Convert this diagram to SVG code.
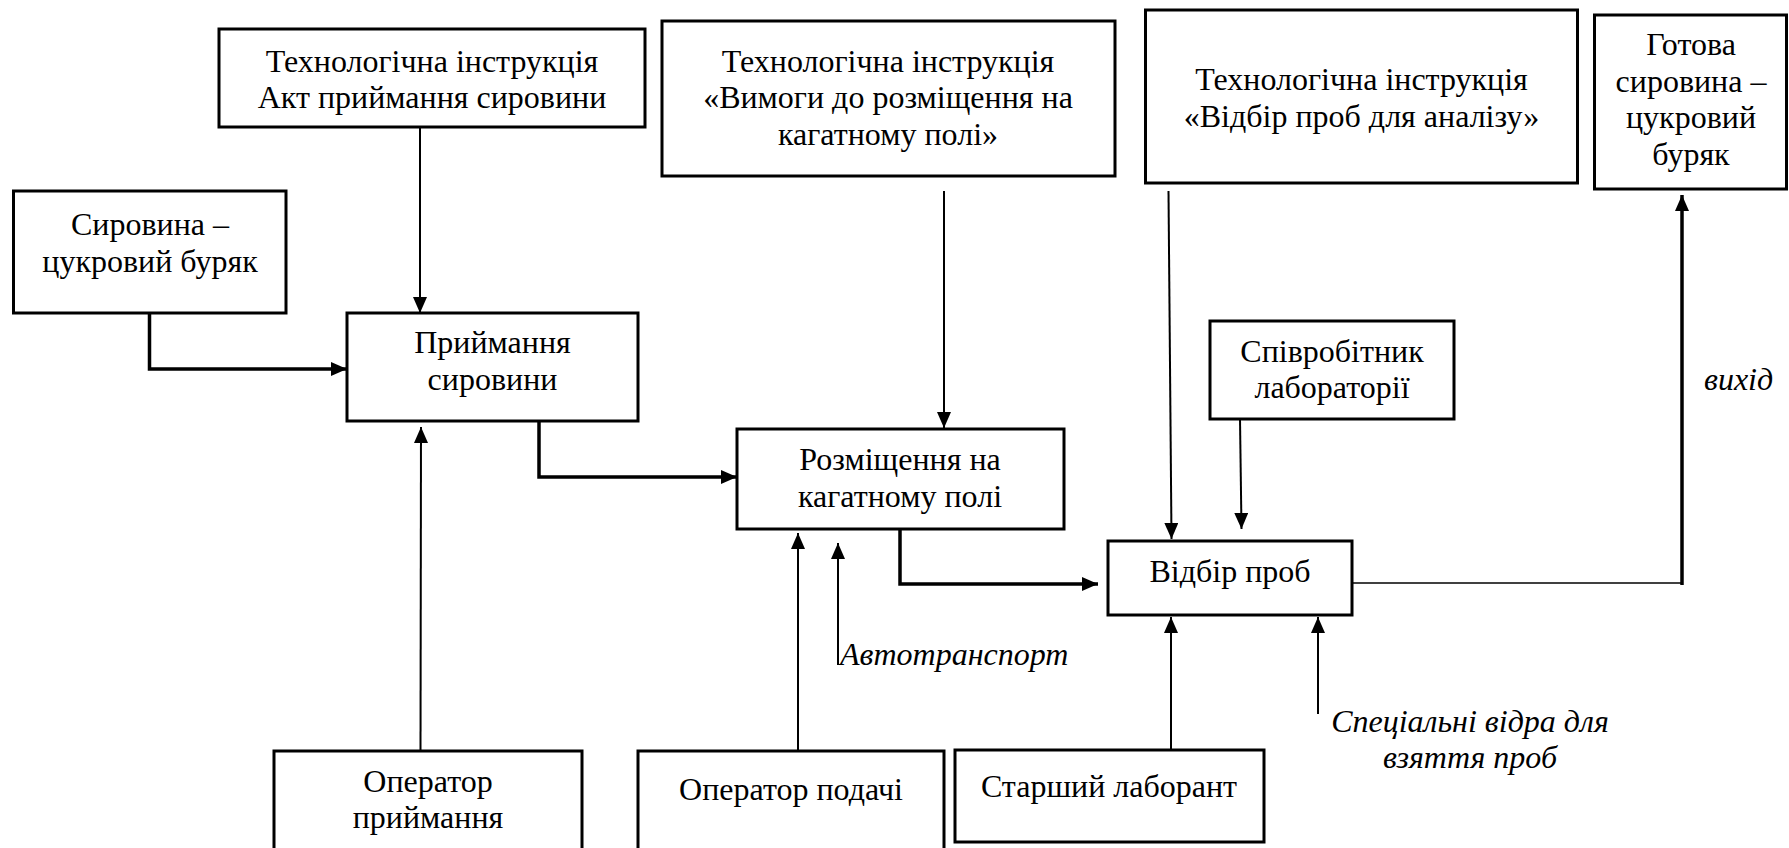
<svg xmlns="http://www.w3.org/2000/svg" width="1789" height="848" viewBox="0 0 1789 848">
<defs>
<marker id="ah" markerUnits="userSpaceOnUse" markerWidth="16" markerHeight="14" refX="16" refY="7" orient="auto">
<path d="M0,0 L16,7 L0,14 z" fill="#000"/>
</marker>
<text id="t1" x="432" y="72" text-anchor="middle" font-family="Liberation Serif" font-size="32">Технологічна інструкція</text>
<text id="t2" x="432" y="108" text-anchor="middle" font-family="Liberation Serif" font-size="32">Акт приймання сировини</text>
<text id="t3" x="150" y="235" text-anchor="middle" font-family="Liberation Serif" font-size="32">Сировина –</text>
<text id="t4" x="150" y="272" text-anchor="middle" font-family="Liberation Serif" font-size="32">цукровий буряк</text>
<text id="t5" x="492.5" y="353" text-anchor="middle" font-family="Liberation Serif" font-size="32">Приймання</text>
<text id="t6" x="492.5" y="390" text-anchor="middle" font-family="Liberation Serif" font-size="32">сировини</text>
<text id="t7" x="888" y="72" text-anchor="middle" font-family="Liberation Serif" font-size="32">Технологічна інструкція</text>
<text id="t8" x="888" y="108" text-anchor="middle" font-family="Liberation Serif" font-size="32">«Вимоги до розміщення на</text>
<text id="t9" x="888" y="145" text-anchor="middle" font-family="Liberation Serif" font-size="32">кагатному полі»</text>
<text id="t10" x="900" y="470" text-anchor="middle" font-family="Liberation Serif" font-size="32">Розміщення на</text>
<text id="t11" x="900" y="507" text-anchor="middle" font-family="Liberation Serif" font-size="32">кагатному полі</text>
<text id="t12" x="1361.5" y="90" text-anchor="middle" font-family="Liberation Serif" font-size="32">Технологічна інструкція</text>
<text id="t13" x="1361.5" y="127" text-anchor="middle" font-family="Liberation Serif" font-size="32">«Відбір проб для аналізу»</text>
<text id="t14" x="1691" y="55" text-anchor="middle" font-family="Liberation Serif" font-size="32">Готова</text>
<text id="t15" x="1691" y="92" text-anchor="middle" font-family="Liberation Serif" font-size="32">сировина –</text>
<text id="t16" x="1691" y="128" text-anchor="middle" font-family="Liberation Serif" font-size="32">цукровий</text>
<text id="t17" x="1691" y="165" text-anchor="middle" font-family="Liberation Serif" font-size="32">буряк</text>
<text id="t18" x="1332" y="362" text-anchor="middle" font-family="Liberation Serif" font-size="32">Співробітник</text>
<text id="t19" x="1332" y="398" text-anchor="middle" font-family="Liberation Serif" font-size="32">лабораторії</text>
<text id="t20" x="1230" y="582" text-anchor="middle" font-family="Liberation Serif" font-size="32">Відбір проб</text>
<text id="t21" x="428" y="792" text-anchor="middle" font-family="Liberation Serif" font-size="32">Оператор</text>
<text id="t22" x="428" y="828" text-anchor="middle" font-family="Liberation Serif" font-size="32">приймання</text>
<text id="t23" x="791" y="800" text-anchor="middle" font-family="Liberation Serif" font-size="32">Оператор подачі</text>
<text id="t24" x="1109" y="797" text-anchor="middle" font-family="Liberation Serif" font-size="32">Старший лаборант</text>
<text id="t25" x="840" y="665" font-family="Liberation Serif" font-size="32" font-style="italic">Автотранспорт</text>
<text id="t26" x="1704" y="390" font-family="Liberation Serif" font-size="32" font-style="italic">вихід</text>
<text id="t27" x="1470" y="732" text-anchor="middle" font-family="Liberation Serif" font-size="32" font-style="italic">Спеціальні відра для</text>
<text id="t28" x="1470" y="768" text-anchor="middle" font-family="Liberation Serif" font-size="32" font-style="italic">взяття проб</text>
</defs>
<rect width="1789" height="848" fill="#fff"/>
<g id="connectors" fill="none" stroke="#000">
<path stroke-width="2" d="M420,127 V313" marker-end="url(#ah)"/>
<path stroke-width="3.5" d="M149.5,313 V369 H347" marker-end="url(#ah)"/>
<path stroke-width="3.5" d="M539,421 V477 H737" marker-end="url(#ah)"/>
<path stroke-width="2" d="M944,191 V428" marker-end="url(#ah)"/>
<path stroke-width="2" d="M420.5,751 L421,427" marker-end="url(#ah)"/>
<path stroke-width="2" d="M798,751 V533" marker-end="url(#ah)"/>
<path stroke-width="2" d="M838,665 V543" marker-end="url(#ah)"/>
<path stroke-width="3.5" d="M900,529 V584 H1098" marker-end="url(#ah)"/>
<path stroke-width="2" d="M1168.5,191 L1171.5,539" marker-end="url(#ah)"/>
<path stroke-width="2" d="M1240,419 L1241.5,529" marker-end="url(#ah)"/>
<path stroke-width="2" d="M1171,750 V617" marker-end="url(#ah)"/>
<path stroke-width="2" d="M1318,714 V617" marker-end="url(#ah)"/>
<path stroke-width="1.5" d="M1352,583 H1682"/>
<path stroke-width="3.5" d="M1682,585 V195" marker-end="url(#ah)"/>
</g>
<g id="n-tech-akt">
<rect x="219" y="29" width="426" height="98" fill="#fff" stroke="#000" stroke-width="3"/>
<use href="#t1"/><use href="#t2"/>
</g>
<g id="n-syrovyna">
<rect x="13.5" y="191" width="272.5" height="122" fill="#fff" stroke="#000" stroke-width="3"/>
<use href="#t3"/><use href="#t4"/>
</g>
<g id="n-pryimannia">
<rect x="347" y="313" width="291" height="108" fill="#fff" stroke="#000" stroke-width="3"/>
<use href="#t5"/><use href="#t6"/>
</g>
<g id="n-tech-vymogy">
<rect x="662" y="21" width="453" height="155" fill="#fff" stroke="#000" stroke-width="3"/>
<use href="#t7"/><use href="#t8"/><use href="#t9"/>
</g>
<g id="n-rozmishchennia">
<rect x="737" y="429" width="327" height="100" fill="#fff" stroke="#000" stroke-width="3"/>
<use href="#t10"/><use href="#t11"/>
</g>
<g id="n-tech-vidbir">
<rect x="1145.5" y="10" width="432" height="173" fill="#fff" stroke="#000" stroke-width="3"/>
<use href="#t12"/><use href="#t13"/>
</g>
<g id="n-gotova">
<rect x="1594.5" y="15" width="192" height="174" fill="#fff" stroke="#000" stroke-width="3"/>
<use href="#t14"/><use href="#t15"/><use href="#t16"/><use href="#t17"/>
</g>
<g id="n-spivrobitnyk">
<rect x="1210" y="321" width="244" height="98" fill="#fff" stroke="#000" stroke-width="3"/>
<use href="#t18"/><use href="#t19"/>
</g>
<g id="n-vidbir">
<rect x="1108" y="541" width="244" height="74" fill="#fff" stroke="#000" stroke-width="3"/>
<use href="#t20"/>
</g>
<g id="n-operator-pryimannia">
<rect x="274" y="751" width="308" height="110" fill="#fff" stroke="#000" stroke-width="3"/>
<use href="#t21"/><use href="#t22"/>
</g>
<g id="n-operator-podachi">
<rect x="638" y="751" width="306" height="110" fill="#fff" stroke="#000" stroke-width="3"/>
<use href="#t23"/>
</g>
<g id="n-starshyi">
<rect x="955" y="750" width="309" height="92" fill="#fff" stroke="#000" stroke-width="3"/>
<use href="#t24"/>
</g>
<g id="labels">
<use href="#t25"/><use href="#t26"/><use href="#t27"/><use href="#t28"/>
</g>
</svg>
